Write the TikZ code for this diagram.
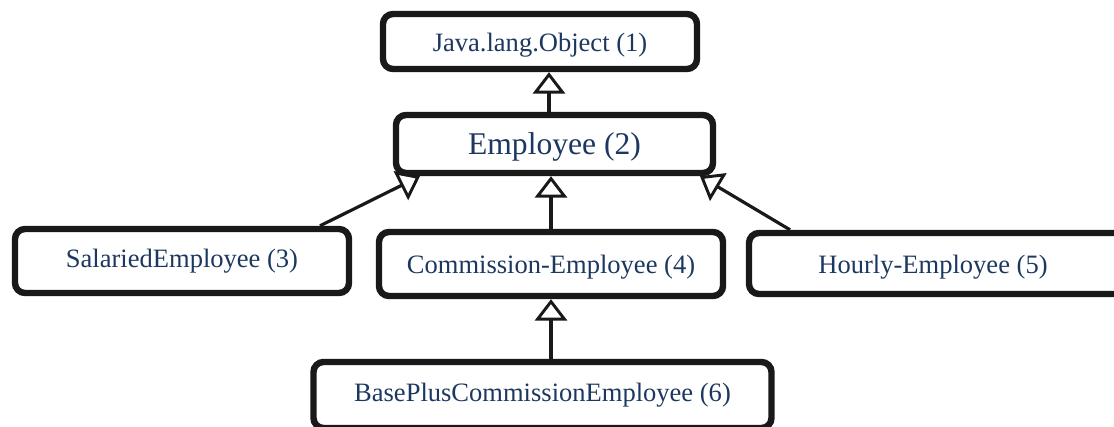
\documentclass[tikz,border=0pt]{standalone}
\usepackage{fontspec}
\setmainfont{Liberation Serif}
\usetikzlibrary{arrows.meta,calc}
\definecolor{labelblue}{RGB}{28,56,96}
\newcommand\lowered[1]{\raisebox{-2.5pt}[\height][\depth]{#1}}
\tikzset{
  classbox/.style={draw=black!90, line width=4.8pt, rounded corners=7.5pt,
    fill=white, inner sep=0pt, text=labelblue,
    font=\fontsize{19.9}{24}\selectfont},
  inherit/.style={draw=black!90, line width=2.4pt,
    -{Triangle[open, width=24pt, length=16pt, line width=2.2pt]}}
}
\begin{document}
\begin{tikzpicture}[x=0.75pt, y=-0.75pt]
  \useasboundingbox (0,0) rectangle (1114,427);
  \begin{scope}
    \clip (0,0) rectangle (1114,427);
    \node[classbox, minimum width=235.5pt, minimum height=41.25pt] (obj) at (540,41.5) {\lowered{Java.lang.Object (1)}};
    \node[classbox, minimum width=237.75pt, minimum height=43.5pt,
          font=\fontsize{23.7}{28}\selectfont] (emp) at (554.5,144) {\lowered{Employee (2)}};
    \node[classbox, minimum width=250.5pt, minimum height=48pt] (sal) at (182,261) {SalariedEmployee (3)};
    \node[classbox, minimum width=258pt, minimum height=48pt] (com) at (551,264) {\lowered{Commission-Employee (4)}};
    \node[classbox, minimum width=282pt, minimum height=45.75pt] (hou) at (937,263.5) {\hspace*{-6pt}\lowered{Hourly-Employee (5)}};
    \node[classbox, minimum width=343.5pt, minimum height=49.5pt] (bpc) at (542.5,395) {BasePlusCommissionEmployee (6)};

    % inheritance arrows, child to parent
    \draw[inherit] ($(emp.north)+(-5.5,0)$) -- ($(obj.south)+(9,0)$);
    \draw[inherit] ($(sal.north)+(138,0)$) -- ($(emp.south)+(-134.5,0)$);
    \draw[inherit] (com.north) -- (com.north |- emp.south);
    \draw[inherit] ($(hou.north)+(-147,0)$) -- ($(emp.south)+(145.5,0)$);
    \draw[inherit] (bpc.north -| com.south) -- (com.south);
  \end{scope}
\end{tikzpicture}
\end{document}
